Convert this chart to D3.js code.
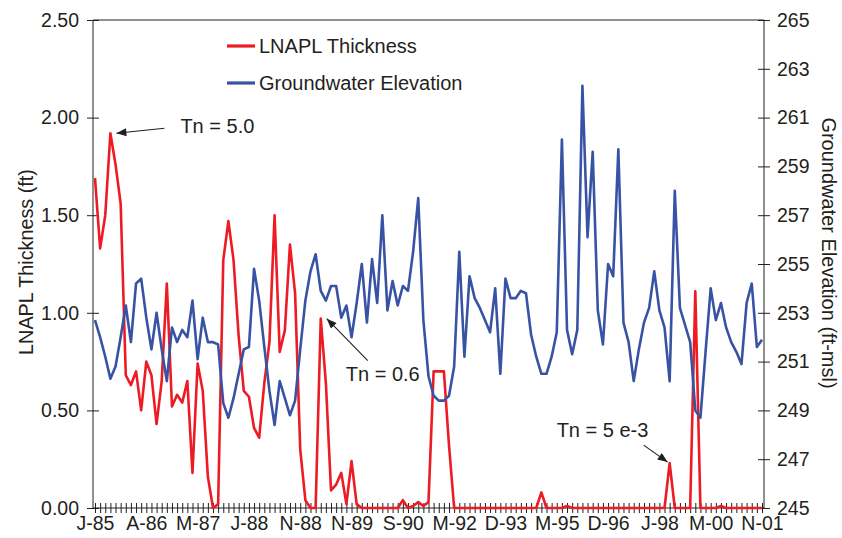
<!DOCTYPE html>
<html><head><meta charset="utf-8">
<script src="https://cdn.jsdelivr.net/npm/d3@7"></script>
<style>
body{margin:0;background:#fff}
svg text{font-family:"Liberation Sans",Arial,Helvetica,sans-serif;fill:#231f20}
</style>
</head><body>
<svg id="c" width="842" height="538"></svg>
<script>
// ---- data ----
const xLabels = ["J-85","A-86","M-87","J-88","N-88","N-89","S-90","M-92","D-93","M-95","D-96","J-98","M-00","N-01"];
const labelEvery = 10; // one label every 10 samples
const lnapl = [
 1.69,1.33,1.50,1.92,1.76,1.56,0.68,0.63,0.70,0.50,
 0.75,0.68,0.43,0.65,1.15,0.52,0.58,0.54,0.65,0.18,
 0.74,0.60,0.16,0.00,0.02,1.27,1.47,1.27,0.88,0.60,
 0.57,0.41,0.36,0.64,0.85,1.50,0.80,0.91,1.35,1.10,
 0.30,0.04,0.00,0.00,0.97,0.64,0.09,0.12,0.18,0.02,
 0.24,0.02,0.00,0.00,0.00,0.00,0.00,0.00,0.00,0.00,
 0.04,0.00,0.01,0.03,0.01,0.03,0.70,0.70,0.70,0.32,
 0.00,0.00,0.00,0.00,0.00,0.00,0.00,0.00,0.00,0.00,
 0.00,0.00,0.00,0.00,0.00,0.00,0.00,0.08,0.00,0.00,
 0.00,0.00,0.01,0.00,0.00,0.00,0.00,0.00,0.00,0.00,
 0.00,0.00,0.00,0.00,0.00,0.00,0.00,0.00,0.00,0.00,
 0.00,0.00,0.23,0.00,0.00,0.00,0.00,1.11,0.00,0.00,
 0.00,0.00,0.01,0.00,0.00,0.00,0.00,0.00,0.00,0.00,
 0.00
];
const gw = [
 252.7,252.0,251.2,250.3,250.8,252.0,253.3,251.8,254.2,254.4,
 252.8,251.5,253.0,251.5,250.2,252.4,251.8,252.3,252.0,253.5,
 251.1,252.8,251.8,251.8,251.7,249.3,248.7,249.5,250.5,251.5,
 251.6,254.8,253.5,251.6,249.8,248.4,250.2,249.5,248.8,249.4,
 251.5,253.5,254.7,255.4,253.9,253.5,254.1,254.1,252.8,253.3,
 252.0,253.4,255.0,252.6,255.2,253.4,257.0,253.1,254.3,253.3,
 254.1,253.9,255.5,257.7,252.7,250.4,249.6,249.4,249.4,249.6,
 250.8,255.5,251.2,254.5,253.6,253.2,252.7,252.2,254.0,250.5,
 254.4,253.6,253.6,253.9,253.8,252.1,251.2,250.5,250.5,251.2,
 252.2,260.1,252.3,251.3,252.3,262.3,256.1,259.6,253.1,251.7,
 255.0,254.5,259.7,252.6,251.8,250.2,251.5,252.6,253.2,254.7,
 253.1,252.4,250.2,258.0,253.2,252.5,251.8,249.0,248.7,251.4,
 254.0,252.7,253.4,252.4,251.8,251.4,250.9,253.4,254.2,251.6,
 251.9
];
const leftTicks = [0,0.5,1.0,1.5,2.0,2.5];
const rightTicks = [245,247,249,251,253,255,257,259,261,263,265];
const seriesNames = ["LNAPL Thickness","Groundwater Elevation"];
const leftTitle = "LNAPL Thickness (ft)";
const rightTitle = "Groundwater Elevation (ft-msl)";
const annotations = [
  {i:3,   label:"Tn = 5.0"},
  {i:44,  label:"Tn = 0.6"},
  {i:112, label:"Tn = 5 e-3"}
];

// ---- layout ----
const L=93, R=764, T=20, B=508;
const RED="#ed1c24", BLUE="#3853a4", INK="#231f20";
const svg=d3.select("#c");

const x=d3.scaleLinear().domain([0,lnapl.length-1]).range([95,762]);
const y=d3.scaleLinear().domain([0,2.5]).range([B,T]);
const y2=d3.scaleLinear().domain([245,265]).range([B,T]);

svg.append("defs").append("marker")
  .attr("id","ah").attr("viewBox","0 0 10 8").attr("refX",10).attr("refY",4)
  .attr("markerWidth",11).attr("markerHeight",8).attr("markerUnits","userSpaceOnUse")
  .attr("orient","auto")
  .append("path").attr("d","M0,0L10,4L0,8Z").attr("fill",INK);

// frame
svg.append("line").attr("x1",L).attr("x2",R).attr("y1",T).attr("y2",T).attr("stroke",INK).attr("stroke-width",1);

// left axis
const gl=svg.append("g").attr("transform",`translate(${L},0)`)
  .call(d3.axisLeft(y).tickValues(leftTicks).tickFormat(d3.format(".2f")).tickSize(6).tickPadding(8));
gl.select(".domain").remove();
gl.selectAll(".tick line").attr("x1",6).attr("stroke",INK);
gl.selectAll("text").style("font-size","19.5px");
svg.append("line").attr("x1",L).attr("x2",L).attr("y1",T).attr("y2",B).attr("stroke",INK);

// right axis
const gr=svg.append("g").attr("transform",`translate(${R},0)`)
  .call(d3.axisRight(y2).tickValues(rightTicks).tickSize(6).tickPadding(7));
gr.select(".domain").remove();
gr.selectAll(".tick line").attr("x1",-6).attr("stroke",INK);
gr.selectAll("text").style("font-size","19.5px");
svg.append("line").attr("x1",R).attr("x2",R).attr("y1",T).attr("y2",B).attr("stroke",INK);

// bottom axis
const gb=svg.append("g").attr("transform",`translate(0,${B})`)
  .call(d3.axisBottom(x).tickValues(d3.range(lnapl.length)).tickSize(5).tickPadding(3)
    .tickFormat(d=> d%labelEvery===0 ? xLabels[d/labelEvery] : ""));
gb.select(".domain").remove();
gb.selectAll(".tick line").attr("y1",-5).attr("stroke",INK);
gb.selectAll("text").style("font-size","19.5px");
svg.append("line").attr("x1",L).attr("x2",R).attr("y1",B).attr("y2",B).attr("stroke",INK);

// series
svg.append("path").datum(lnapl)
  .attr("d",d3.line().x((d,i)=>x(i)).y(d=>y(d)))
  .attr("fill","none").attr("stroke",RED).attr("stroke-width",2.6).attr("stroke-linejoin","round");
svg.append("path").datum(gw)
  .attr("d",d3.line().x((d,i)=>x(i)).y(d=>y2(d)))
  .attr("fill","none").attr("stroke",BLUE).attr("stroke-width",2.6).attr("stroke-linejoin","round");

// axis titles
svg.append("text").attr("transform",`translate(33,262) rotate(-90)`)
  .attr("text-anchor","middle").style("font-size","19.8px").text(leftTitle);
svg.append("text").attr("transform",`translate(822,253) rotate(90)`)
  .attr("text-anchor","middle").style("font-size","20px").text(rightTitle);

// legend
const leg=[{c:RED,y:46},{c:BLUE,y:83}];
leg.forEach((l,k)=>{
  svg.append("line").attr("x1",227).attr("x2",255).attr("y1",l.y).attr("y2",l.y)
    .attr("stroke",l.c).attr("stroke-width",3.2);
  svg.append("text").attr("x",259).attr("y",l.y).attr("dy","0.36em")
    .style("font-size","20px").text(seriesNames[k]);
});

// annotations (anchored on data points)
const off=[
  {tip:[6,0],  tail:[54,-5],  txt:[70,0]},
  {tip:[6,0],  tail:[47,42],  txt:[25,62]},
  {tip:[-2,-1],tail:[-26,-18],txt:[-113,-26]}
];
annotations.forEach((a,k)=>{
  const px=x(a.i), py=y(lnapl[a.i]), o=off[k];
  svg.append("line")
    .attr("x1",px+o.tail[0]).attr("y1",py+o.tail[1])
    .attr("x2",px+o.tip[0]).attr("y2",py+o.tip[1])
    .attr("stroke",INK).attr("stroke-width",1.1).attr("marker-end","url(#ah)");
  svg.append("text").attr("x",px+o.txt[0]).attr("y",py+o.txt[1])
    .style("font-size","20px").text(a.label);
});
</script>
</body></html>
